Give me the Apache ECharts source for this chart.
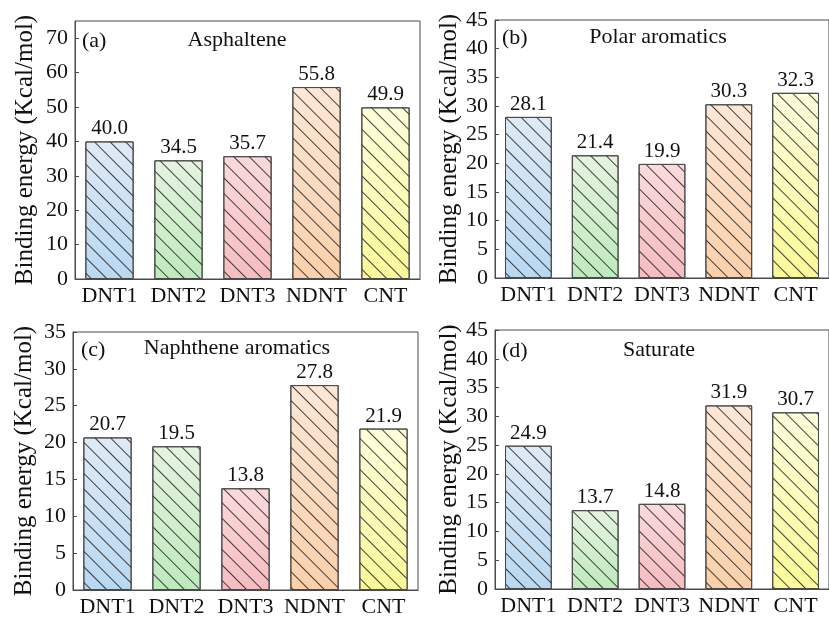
<!DOCTYPE html>
<html>
<head>
<meta charset="utf-8">
<script src="https://cdn.jsdelivr.net/npm/echarts@6/dist/echarts.min.js"></script>
<style>
html,body{margin:0;padding:0;background:#fff;}
#c{width:829px;height:618px;}
</style>
</head>
<body>
<div id="c"></div>
<script>
// ---- data ----
const categories = ['DNT1', 'DNT2', 'DNT3', 'NDNT', 'CNT'];
const asphaltene = [40.0, 34.5, 35.7, 55.8, 49.9];
const polarAromatics = [28.1, 21.4, 19.9, 30.3, 32.3];
const naphtheneAromatics = [20.7, 19.5, 13.8, 27.8, 21.9];
const saturate = [24.9, 13.7, 14.8, 31.9, 30.7];
const panelLetters = ['(a)', '(b)', '(c)', '(d)'];
const panelTitles = ['Asphaltene', 'Polar aromatics', 'Naphthene aromatics', 'Saturate'];
const yMax = [75, 45, 35, 45];
const yInterval = [10, 5, 5, 5];
const yAxisName = 'Binding energy (Kcal/mol)';

// ---- styles ----
const colorTop = ['#dfeaf5', '#e6f3e0', '#fbdadc', '#fde7d6', '#fefedc'];
const colorBottom = ['#b8d8f2', '#bdeabc', '#f6bcc0', '#fbd0aa', '#fafa98'];
const FONT = '"Liberation Serif", "Times New Roman", serif';
const AXC = '#4a4a4a';

const grids = [
  {left: 75, top: 21, width: 345, height: 258},
  {left: 495, top: 20, width: 345, height: 258},
  {left: 73, top: 332, width: 345, height: 258},
  {left: 495, top: 330, width: 345, height: 259}
];
const nameGaps = [37, 32, 36, 32];
const allSeries = [asphaltene, polarAromatics, naphtheneAromatics, saturate];
const letterPos = [[82, 41], [502, 38], [81, 350], [502, 351]];
const titlePos = [[237, 40], [658, 37], [237, 348], [659, 350]];

const chart = echarts.init(document.getElementById('c'), null, {renderer: 'canvas'});

const option = {
  animation: false,
  backgroundColor: '#fff',
  grid: grids.map(g => Object.assign({show: true, borderColor: AXC, borderWidth: 1, backgroundColor: 'transparent'}, g)),
  xAxis: grids.map((g, i) => ({
    type: 'category',
    gridIndex: i,
    data: categories,
    axisLine: {lineStyle: {color: AXC, width: 1}},
    axisTick: {show: false},
    axisLabel: {color: '#111', fontFamily: FONT, fontSize: 22, margin: 6, interval: 0, hideOverlap: false}
  })),
  yAxis: grids.map((g, i) => ({
    type: 'value',
    gridIndex: i,
    min: 0,
    max: yMax[i],
    interval: yInterval[i],
    name: yAxisName,
    nameLocation: 'middle',
    nameGap: nameGaps[i],
    nameTextStyle: {color: '#111', fontFamily: FONT, fontSize: 25},
    splitLine: {show: false},
    axisLine: {show: true, lineStyle: {color: AXC, width: 1}},
    axisTick: {show: true, inside: true, length: 4, lineStyle: {color: AXC}},
    axisLabel: {
      color: '#111', fontFamily: FONT, fontSize: 22, margin: 7,
      showMaxLabel: i === 0 ? false : true
    }
  })),
  series: allSeries.map((vals, i) => ({
    type: 'bar',
    xAxisIndex: i,
    yAxisIndex: i,
    barWidth: '70%',
    data: vals.map((v, k) => ({
      value: v,
      itemStyle: {
        color: {
          type: 'linear', x: 0, y: 0, x2: 0, y2: 1,
          colorStops: [{offset: 0, color: colorTop[k]}, {offset: 1, color: colorBottom[k]}]
        }
      }
    })),
    itemStyle: {
      borderColor: AXC,
      borderWidth: 1,
      decal: {
        symbol: 'rect',
        symbolSize: 1,
        dashArrayX: [1, 0],
        dashArrayY: [1, 10],
        rotation: Math.PI / 4,
        color: 'rgba(30,30,30,0.85)'
      }
    },
    label: {
      show: true,
      position: 'top',
      distance: 2,
      color: '#111',
      fontFamily: FONT,
      fontSize: 21,
      formatter: p => Number(p.value).toFixed(1)
    }
  })),
  graphic: [].concat(
    panelLetters.map((t, i) => ({
      type: 'text', x: letterPos[i][0], y: letterPos[i][1],
      style: {text: t, font: '22px ' + FONT, fill: '#111', textAlign: 'left', textVerticalAlign: 'middle'}
    })),
    panelTitles.map((t, i) => ({
      type: 'text', x: titlePos[i][0], y: titlePos[i][1],
      style: {text: t, font: '22px ' + FONT, fill: '#111', textAlign: 'center', textVerticalAlign: 'middle'}
    }))
  )
};
chart.setOption(option);
</script>
</body>
</html>
